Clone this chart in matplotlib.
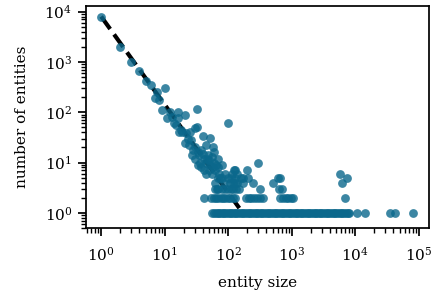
#log-log scatter of entity size vs number of entities, with a power law guide line
import numpy as np
import matplotlib
matplotlib.use("Agg")
import matplotlib.pyplot as plt

plt.rcParams["font.family"] = ["DejaVu Serif"]
plt.rcParams["mathtext.fontset"] = "dejavuserif"

#data
head_size = [1, 2, 3, 4, 5, 6, 7.6, 7, 8, 9, 10, 11, 12, 13, 14, 15, 16, 16, 18, 21,
             17, 19, 22, 25, 30, 32, 32, 40, 52, 21, 23, 26, 24, 28, 58, 100]
head_count = [8000, 2000, 1000, 650, 420, 350, 250, 190, 175, 110, 300, 78, 100, 80, 60, 55, 100, 78, 45, 89,
              41, 41, 39, 41, 49, 115, 51, 34, 31, 25, 30, 28, 22, 18, 20, 60]

mid_size = [30, 33, 35, 38, 40, 42, 44, 45, 48, 50, 52, 55, 58, 60, 62, 65, 68, 70, 38, 42,
            45, 34, 30, 27, 50, 55, 60, 72, 36, 47, 80, 129, 63, 66]
mid_count = [20, 16, 14, 18, 15, 12, 22, 10, 14, 11, 9, 13, 8, 10, 7, 9, 12, 8, 8, 7,
             6, 9, 12, 14, 7, 6, 16, 6, 10, 12, 9, 7, 4, 3]

tail_size = [75, 80, 85, 90, 100, 105, 115, 120, 125, 130, 140, 150, 160, 170, 140, 68, 112, 126,
             200, 205, 300, 173, 245, 510, 610, 660, 640, 5800, 7400, 6300,
             63, 70, 80, 90, 100, 110, 120, 135, 316, 710]
tail_count = [5, 5, 4, 6, 5, 4, 6, 4, 7, 5, 4, 3, 5, 4, 6, 5, 5, 4,
              7, 5, 10, 5, 4, 4, 5, 5, 3, 6, 5, 4,
              3, 3, 3, 3, 3, 3, 3, 3, 3, 3]

two_size = [42, 54, 60, 65, 70, 76, 82, 90, 98, 108, 118, 130, 190, 210, 230, 255, 285, 320, 355,
            650, 720, 800, 880, 960, 1050, 6900]

one_size = [56, 60, 64, 68, 72, 77, 82, 87, 93, 99, 105, 112, 119, 127, 135, 144, 153, 163, 174, 185,
            197, 210, 224, 238, 254, 270, 288, 306, 326, 347, 370, 394, 420, 447, 476, 507, 540, 575,
            612, 652, 694, 739, 787, 838, 893, 951, 1010, 1080, 1150, 1220, 1300, 1390, 1480, 1570,
            1680, 1790, 1900, 2020, 2150, 2290, 2440, 2600, 2770, 2950, 3140, 3350, 3560, 3800, 4040,
            4300, 4580, 4880, 5200, 5540, 5900, 6280, 6690, 7120, 7580, 8070,
            10700, 14400, 35000, 43000, 81000]

#power law guide
fit_amp = 8000
fit_exp = -1.75
fit_range = [1, 150]

sizes = np.array(head_size + mid_size + tail_size + two_size + one_size, dtype=float)
counts = np.array(head_count + mid_count + tail_count + [2] * len(two_size) + [1] * len(one_size), dtype=float)

fig = plt.figure(figsize=(4.35, 2.95), dpi=100)
ax = fig.add_axes([0.198, 0.227, 0.788, 0.753])

xf = np.logspace(np.log10(fit_range[0]), np.log10(fit_range[1]), 50)
ax.plot(xf, fit_amp * xf ** fit_exp, "k--", lw=3, zorder=1)
ax.scatter(sizes, counts, s=40, color="#0b688c", alpha=0.8, linewidths=0, zorder=2)

ax.set_xscale("log")
ax.set_yscale("log")
ax.set_xlim(0.58, 1.45e5)
ax.set_ylim(0.5, 1.3e4)
ax.set_xlabel("entity size", fontsize=11, labelpad=9)
ax.set_ylabel("number of entities", fontsize=11, labelpad=11)

for side in ax.spines.values():
    side.set_linewidth(1.25)
ax.tick_params(which="major", direction="out", length=6, width=1.25, labelsize=11)
ax.tick_params(axis="x", which="major", pad=7)
ax.tick_params(axis="y", which="major", pad=4)
ax.tick_params(which="minor", direction="out", length=3.5, width=1)

fig.savefig("out.png", dpi=100)
